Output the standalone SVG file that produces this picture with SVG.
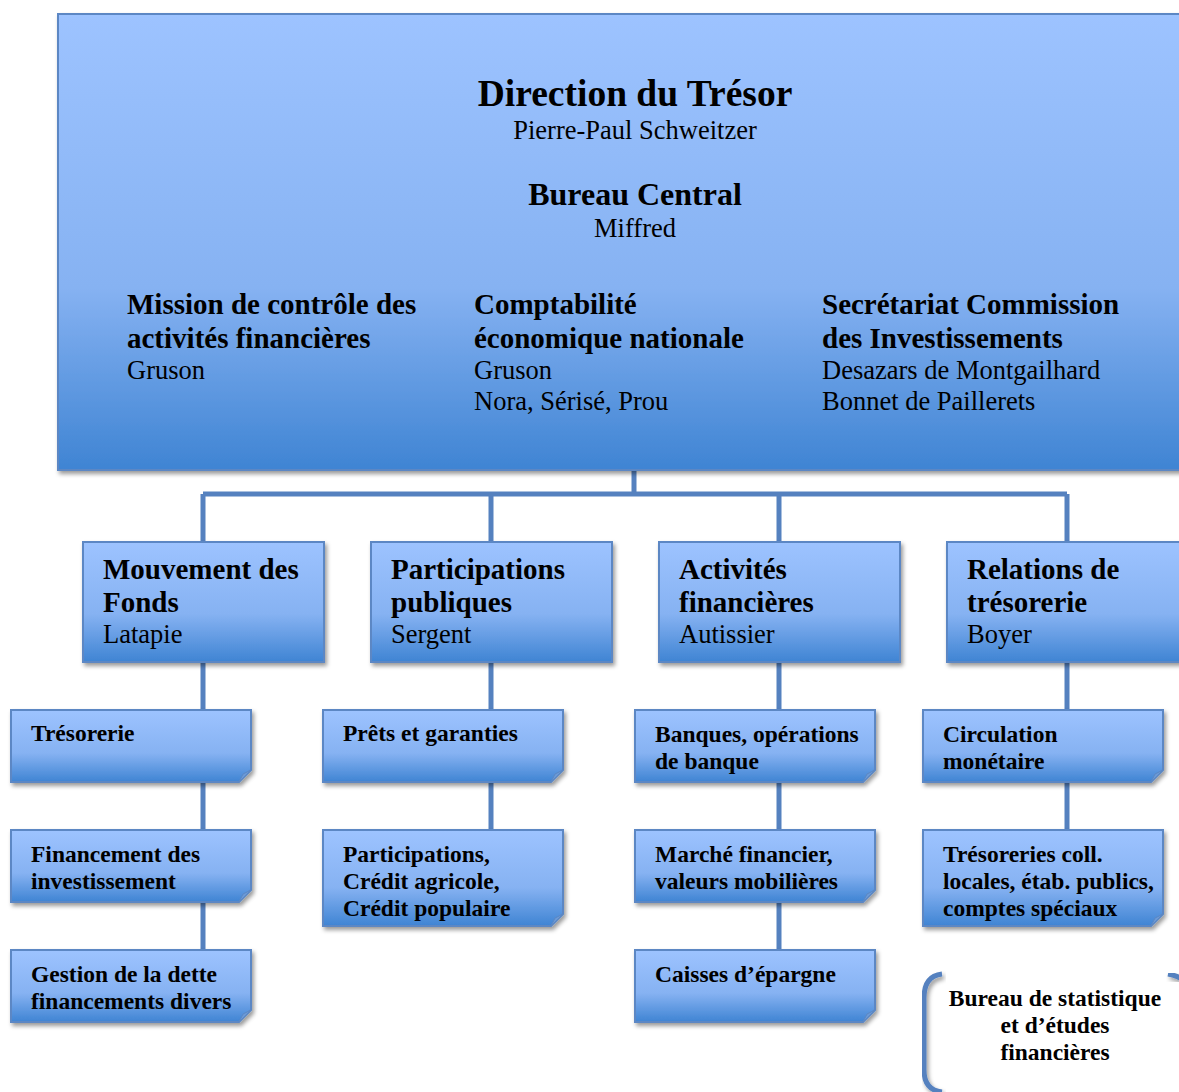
<svg xmlns="http://www.w3.org/2000/svg" width="1179" height="1092" viewBox="0 0 1179 1092">
<defs>
<linearGradient id="g" x1="0" y1="0" x2="0" y2="1">
<stop offset="0" stop-color="#9dc3ff"/>
<stop offset="0.6" stop-color="#86b2f2"/>
<stop offset="1" stop-color="#3f84d3"/>
</linearGradient>
<filter id="sh" x="-10%" y="-10%" width="130%" height="130%">
<feDropShadow dx="2" dy="3" stdDeviation="2" flood-color="#000" flood-opacity="0.4"/>
</filter>
<style>
.box{fill:url(#g);stroke:#5b87c4;stroke-width:2;filter:url(#sh)}
.fold{fill:#6a9ad8;stroke:#5b87c4;stroke-width:1}
.conn{fill:none;stroke:#5581bf;stroke-width:5}
.t{font-family:"Liberation Serif","Times New Roman",serif;fill:#000}
.b{font-weight:bold}
.h1{font-size:37.5px}
.h2{font-size:32px}
.h3{font-size:29px}
.r{font-size:26.5px}
.s{font-size:23.5px;font-weight:bold}
</style>
</defs>
<rect width="1179" height="1092" fill="#fff"/>
<g id="connectors">
<path class="conn" d="M634 470V494M203 494H1067M203 494V542M491 494V542M779 494V542M1067 494V542"/>
<path class="conn" d="M203 662V950M491 662V830M779 662V950M1067 662V830"/>
</g>
<g id="direction">
<rect class="box" x="58" y="14" width="1130" height="456"/>
<text class="t b h1" x="635" y="106" text-anchor="middle">Direction du Trésor</text>
<text class="t r" x="635" y="139" text-anchor="middle">Pierre-Paul Schweitzer</text>
<text class="t b h2" x="635" y="205" text-anchor="middle">Bureau Central</text>
<text class="t r" x="635" y="237" text-anchor="middle">Miffred</text>
<text class="t b h3" x="127" y="314">Mission de contrôle des</text>
<text class="t b h3" x="127" y="348">activités financières</text>
<text class="t r" x="127" y="379">Gruson</text>
<text class="t b h3" x="474" y="314">Comptabilité</text>
<text class="t b h3" x="474" y="348">économique nationale</text>
<text class="t r" x="474" y="379">Gruson</text>
<text class="t r" x="474" y="410">Nora, Sérisé, Prou</text>
<text class="t b h3" x="822" y="314">Secrétariat Commission</text>
<text class="t b h3" x="822" y="348">des Investissements</text>
<text class="t r" x="822" y="379">Desazars de Montgailhard</text>
<text class="t r" x="822" y="410">Bonnet de Paillerets</text>
</g>
<g id="mouvement">
<rect class="box" x="83" y="542" width="241" height="120"/>
<text class="t b h3" x="103" y="579">Mouvement des</text>
<text class="t b h3" x="103" y="612">Fonds</text>
<text class="t r" x="103" y="643">Latapie</text>
</g>
<g id="participations">
<rect class="box" x="371" y="542" width="241" height="120"/>
<text class="t b h3" x="391" y="579">Participations</text>
<text class="t b h3" x="391" y="612">publiques</text>
<text class="t r" x="391" y="643">Sergent</text>
</g>
<g id="activites">
<rect class="box" x="659" y="542" width="241" height="120"/>
<text class="t b h3" x="679" y="579">Activités</text>
<text class="t b h3" x="679" y="612">financières</text>
<text class="t r" x="679" y="643">Autissier</text>
</g>
<g id="relations">
<rect class="box" x="947" y="542" width="250" height="120"/>
<text class="t b h3" x="967" y="579">Relations de</text>
<text class="t b h3" x="967" y="612">trésorerie</text>
<text class="t r" x="967" y="643">Boyer</text>
</g>
<g id="tresorerie">
<path class="box" d="M11 710H251V770L239 782H11Z"/><path class="fold" d="M251 770L243 774L239 782Z"/>
<text class="t s" x="31" y="741">Trésorerie</text>
</g>
<g id="financement">
<path class="box" d="M11 830H251V890L239 902H11Z"/><path class="fold" d="M251 890L243 894L239 902Z"/>
<text class="t s" x="31" y="862">Financement des</text>
<text class="t s" x="31" y="889">investissement</text>
</g>
<g id="gestion">
<path class="box" d="M11 950H251V1010L239 1022H11Z"/><path class="fold" d="M251 1010L243 1014L239 1022Z"/>
<text class="t s" x="31" y="982">Gestion de la dette</text>
<text class="t s" x="31" y="1009">financements divers</text>
</g>
<g id="prets">
<path class="box" d="M323 710H563V770L551 782H323Z"/><path class="fold" d="M563 770L555 774L551 782Z"/>
<text class="t s" x="343" y="741">Prêts et garanties</text>
</g>
<g id="participations-credit">
<path class="box" d="M323 830H563V914L551 926H323Z"/><path class="fold" d="M563 914L555 918L551 926Z"/>
<text class="t s" x="343" y="862">Participations,</text>
<text class="t s" x="343" y="889">Crédit agricole,</text>
<text class="t s" x="343" y="916">Crédit populaire</text>
</g>
<g id="banques">
<path class="box" d="M635 710H875V770L863 782H635Z"/><path class="fold" d="M875 770L867 774L863 782Z"/>
<text class="t s" x="655" y="742">Banques, opérations</text>
<text class="t s" x="655" y="769">de banque</text>
</g>
<g id="marche">
<path class="box" d="M635 830H875V890L863 902H635Z"/><path class="fold" d="M875 890L867 894L863 902Z"/>
<text class="t s" x="655" y="862">Marché financier,</text>
<text class="t s" x="655" y="889">valeurs mobilières</text>
</g>
<g id="caisses">
<path class="box" d="M635 950H875V1010L863 1022H635Z"/><path class="fold" d="M875 1010L867 1014L863 1022Z"/>
<text class="t s" x="655" y="982">Caisses d’épargne</text>
</g>
<g id="circulation">
<path class="box" d="M923 710H1163V770L1151 782H923Z"/><path class="fold" d="M1163 770L1155 774L1151 782Z"/>
<text class="t s" x="943" y="742">Circulation</text>
<text class="t s" x="943" y="769">monétaire</text>
</g>
<g id="tresoreries-coll">
<path class="box" d="M923 830H1163V914L1151 926H923Z"/><path class="fold" d="M1163 914L1155 918L1151 926Z"/>
<text class="t s" x="943" y="862">Trésoreries coll.</text>
<text class="t s" x="943" y="889">locales, étab. publics,</text>
<text class="t s" x="943" y="916">comptes spéciaux</text>
</g>
<g id="bureau-statistique">
<path d="M942 974Q924 976 924 998V1070Q924 1090 942 1092" fill="none" stroke="#5581bf" stroke-width="5" filter="url(#sh)"/>
<path d="M1168 974Q1179 976 1182 980" fill="none" stroke="#5581bf" stroke-width="5" filter="url(#sh)"/>
<text class="t s" x="1055" y="1006" text-anchor="middle">Bureau de statistique</text>
<text class="t s" x="1055" y="1033" text-anchor="middle">et d’études</text>
<text class="t s" x="1055" y="1060" text-anchor="middle">financières</text>
</g>
</svg>
